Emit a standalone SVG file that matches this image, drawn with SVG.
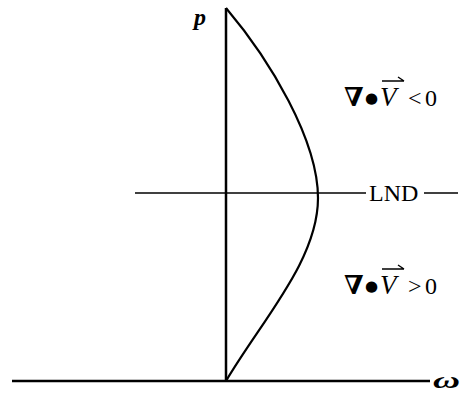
<svg xmlns="http://www.w3.org/2000/svg" width="475" height="393" viewBox="0 0 475 393">
<style>
.ax{stroke:#000;stroke-width:2.5;fill:none}
.ln{stroke:#000;stroke-width:1.3;fill:none}
.cv{stroke:#000;stroke-width:2.2;fill:none}
.t{font-family:"Liberation Serif","DejaVu Serif",serif;font-size:24px;fill:#000}
.nab{font-weight:bold;font-size:26px}
.dot{font-family:"DejaVu Sans",sans-serif;font-size:15px}
.v{font-style:italic;font-size:27px}
.vec{stroke:#000;stroke-width:1.4;fill:none}
</style>
<rect width="475" height="393" fill="#fff"/>
<g id="connectors">
<line class="ax" x1="226" y1="8" x2="226" y2="381"/>
<line class="ax" x1="12" y1="381" x2="430" y2="381"/>
<line class="ln" x1="135" y1="193" x2="366" y2="193"/>
<line class="ln" x1="424" y1="193" x2="458" y2="193"/>
<path class="cv" d="M226,8 C270,60 318,140 318,198 C318,260 262,320 226,381"/>
</g>
<g id="p-label"><text class="t" x="194" y="25" font-size="21" font-style="italic" font-weight="bold">p</text></g>
<g id="omega-label"><text class="t" x="433" y="388" font-size="26" font-style="italic" font-weight="bold" textLength="27" lengthAdjust="spacingAndGlyphs">ω</text></g>
<g id="lnd-label"><text class="t" x="369" y="201">LND</text></g>
<g id="div-neg">
<text class="t" y="106"><tspan class="nab" x="344">∇</tspan><tspan class="dot" x="365" dy="-3">●</tspan><tspan class="v" x="380" dy="3">V</tspan><tspan x="408">&lt;</tspan><tspan x="425">0</tspan></text>
<path class="vec" d="M382,81 H404 M398,77 L404,81"/>
</g>
<g id="div-pos">
<text class="t" y="294"><tspan class="nab" x="344">∇</tspan><tspan class="dot" x="365" dy="-3">●</tspan><tspan class="v" x="380" dy="3">V</tspan><tspan x="408">&gt;</tspan><tspan x="425">0</tspan></text>
<path class="vec" d="M382,269 H404 M398,265 L404,269"/>
</g>
</svg>
